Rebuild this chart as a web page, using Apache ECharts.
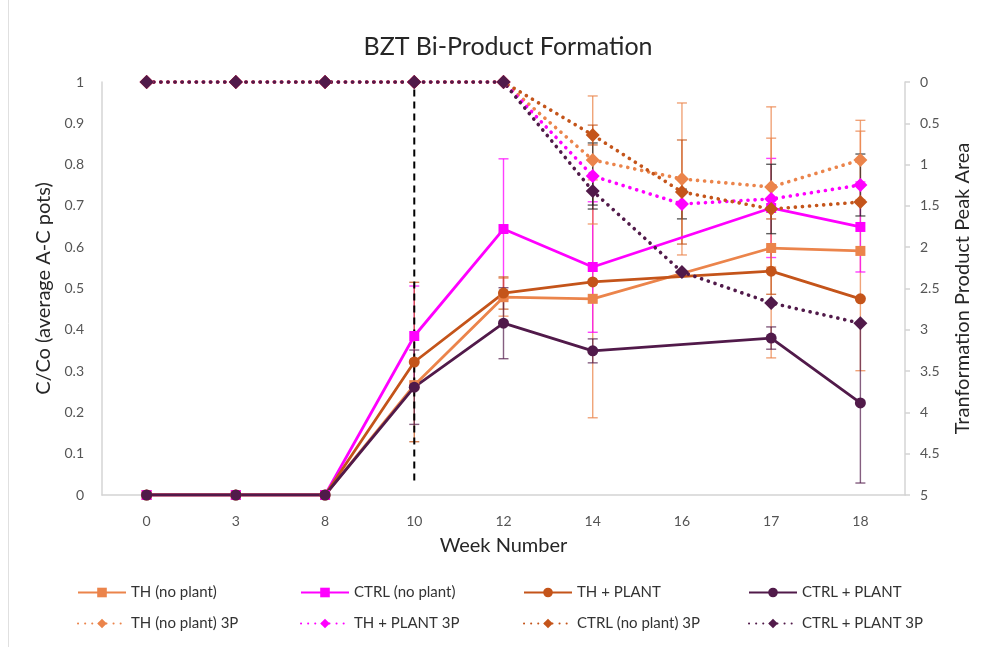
<!DOCTYPE html>
<html>
<head>
<meta charset="utf-8">
<script src="https://cdn.jsdelivr.net/npm/echarts@6/dist/echarts.min.js"></script>
<style>
  html, body { margin: 0; padding: 0; background: #fff; }
  #chart { width: 986px; height: 647px; }
</style>
</head>
<body>
<div id="chart"></div>
<script>
// Sampling weeks
const weeks = ['0', '3', '8', '10', '12', '14', '16', '17', '18'];

// C/Co, average of pots A-C (left axis); week 16 not sampled
const thNoPlant   = [0, 0, 0, 0.266, 0.479, 0.475, null, 0.598, 0.591];
const ctrlNoPlant = [0, 0, 0, 0.385, 0.644, 0.552, null, 0.695, 0.649];
const thPlant     = [0, 0, 0, 0.322, 0.489, 0.516, null, 0.542, 0.475];
const ctrlPlant   = [0, 0, 0, 0.261, 0.416, 0.349, null, 0.380, 0.223];

// Transformation product peak area (right axis, inverted)
const thNoPlant3P   = [0, 0, 0, 0, 0, 0.944, 1.174, 1.271, 0.944];
const thPlant3P     = [0, 0, 0, 0, 0, 1.138, 1.477, 1.416, 1.247];
const ctrlNoPlant3P = [0, 0, 0, 0, 0, 0.642, 1.332, 1.538, 1.453];
const ctrlPlant3P   = [0, 0, 0, 0, 0, 1.320, 2.300, 2.675, 2.920];

// Error bar half-widths (same units as each series)
const thNoPlantErr   = [null, null, null, null, 0.046, 0.288, null, 0.266, 0.290];
const ctrlNoPlantErr = [null, null, null, 0.121, 0.170, 0.158, null, 0.120, 0.109];
const thPlantErr     = [null, null, null, 0.193, 0.039, null, null, 0.056, null];
const ctrlPlantErr   = [null, null, null, 0.090, 0.086, 0.029, null, 0.027, 0.194];
const thNoPlant3PErr   = [null, null, null, null, null, 0.775, 0.920, 0.970, 0.480];
const thPlant3PErr     = [null, null, null, null, null, 0.400, 0.180, 0.420, 0.375];
const ctrlNoPlant3PErr = [null, null, null, null, null, 0.120, 0.630, 0.120, null];
const ctrlPlant3PErr   = [null, null, null, null, null, 0.170, null, null, null];

// Tick labels
const leftTicks = { min: 0, max: 1, step: 0.1 };
const rightTicks = { min: 0, max: 5, step: 0.5 };

// Legend rows
const legendRow1 = ['TH (no plant)', 'CTRL (no plant)', 'TH + PLANT', 'CTRL + PLANT'];
const legendRow2 = ['TH (no plant) 3P', 'TH + PLANT 3P', 'CTRL (no plant) 3P', 'CTRL + PLANT 3P'];

// Treatment start marker at week 10
const cutoffWeek = '10';
const cutoffSpan = [0.035, 0.99];

const C_TH_NP = '#EB844B';
const C_CTRL_NP = '#FF00FF';
const C_TH_P = '#C4541A';
const C_CTRL_P = '#511A4A';
const FONT = 'Lato';

function errData(vals, errs) {
  const out = [];
  vals.forEach((v, i) => {
    if (v != null && errs[i] != null) out.push([i, v - errs[i], v + errs[i]]);
  });
  return out;
}

function errorSeries(vals, errs, color, axis) {
  return {
    type: 'custom',
    yAxisIndex: axis,
    z: 1,
    silent: true,
    data: errData(vals, errs),
    renderItem: function (params, api) {
      const x = api.value(0);
      const lo = api.coord([x, api.value(1)]);
      const hi = api.coord([x, api.value(2)]);
      const hw = 5;
      const style = { stroke: color, lineWidth: 1.4, fill: null };
      return {
        type: 'group',
        children: [
          { type: 'line', shape: { x1: lo[0], y1: lo[1], x2: hi[0], y2: hi[1] }, style },
          { type: 'line', shape: { x1: lo[0] - hw, y1: lo[1], x2: lo[0] + hw, y2: lo[1] }, style },
          { type: 'line', shape: { x1: hi[0] - hw, y1: hi[1], x2: hi[0] + hw, y2: hi[1] }, style }
        ]
      };
    }
  };
}

function solid(name, data, color, symbol, size) {
  return {
    name, type: 'line', data, yAxisIndex: 0, z: 3,
    connectNulls: true,
    symbol, symbolSize: size, showAllSymbol: true,
    lineStyle: { color, width: 2.8 },
    itemStyle: { color, borderWidth: 0 },
    emphasis: { disabled: true }
  };
}

function dotted(name, data, color) {
  return {
    name, type: 'line', data, yAxisIndex: 1, z: 4,
    symbol: 'diamond', symbolSize: 14, showAllSymbol: true,
    lineStyle: { color, width: 3.6, type: [0.1, 7], cap: 'round' },
    itemStyle: { color, borderWidth: 0 },
    emphasis: { disabled: true }
  };
}

// One legend block per entry so the four columns line up across both rows
const legendCols = [77, 300, 523, 748];
const legendTops = [585, 616];
function legendBlocks() {
  const out = [];
  [legendRow1, legendRow2].forEach((row, r) => {
    row.forEach((name, c) => {
      out.push({
        data: [name],
        left: legendCols[c], top: legendTops[r], padding: 0,
        itemWidth: 48, itemHeight: 12,
        textStyle: { fontFamily: FONT, fontSize: 15, color: '#333' },
        selectedMode: false
      });
    });
  });
  return out;
}

const chart = echarts.init(document.getElementById('chart'), null, { renderer: 'canvas' });

chart.setOption({
  animation: false,
  backgroundColor: '#fff',
  textStyle: { fontFamily: FONT },
  title: {
    text: 'BZT Bi-Product Formation',
    left: 503, top: 29, textAlign: 'center',
    textStyle: { fontFamily: FONT, fontSize: 25, fontWeight: 'normal', color: '#262626' }
  },
  grid: { left: 102, right: 81, top: 82, bottom: 152 },
  legend: legendBlocks(),
  xAxis: {
    type: 'category',
    data: weeks,
    boundaryGap: true,
    name: 'Week Number',
    nameLocation: 'middle',
    nameGap: 41,
    nameTextStyle: { fontFamily: FONT, fontSize: 20, color: '#262626' },
    axisLine: { lineStyle: { color: '#D4D4D4', width: 1.5 } },
    axisTick: { show: false },
    axisLabel: { fontFamily: FONT, fontSize: 14, color: '#555', margin: 19 },
    splitLine: { show: false }
  },
  yAxis: [
    {
      type: 'value',
      min: leftTicks.min, max: leftTicks.max, interval: leftTicks.step,
      name: 'C/Co (average A-C pots)',
      nameLocation: 'middle',
      nameGap: 45,
      nameTextStyle: { fontFamily: FONT, fontSize: 20, color: '#262626' },
      axisLine: { show: true, lineStyle: { color: '#D4D4D4', width: 1.5 } },
      axisTick: { show: false },
      axisLabel: { fontFamily: FONT, fontSize: 14, color: '#555', margin: 18 },
      splitLine: { show: false }
    },
    {
      type: 'value',
      inverse: true,
      position: 'right',
      min: rightTicks.min, max: rightTicks.max, interval: rightTicks.step,
      name: 'Tranformation Product Peak Area',
      nameLocation: 'middle',
      nameGap: 48,
      nameRotate: 90,
      nameTextStyle: { fontFamily: FONT, fontSize: 20, color: '#262626' },
      axisLine: { show: true, lineStyle: { color: '#D4D4D4', width: 1.5 } },
      axisTick: { show: true, inside: false, length: 5, lineStyle: { color: '#D4D4D4', width: 1.5 } },
      axisLabel: { fontFamily: FONT, fontSize: 14, color: '#555', margin: 15 },
      splitLine: { show: false }
    }
  ],
  graphic: [
    { type: 'line', shape: { x1: 8.5, y1: 0, x2: 8.5, y2: 647 }, style: { stroke: '#E0E0E0', lineWidth: 1 }, silent: true }
  ],
  series: [
    errorSeries(thNoPlant, thNoPlantErr, 'rgba(235,132,75,0.75)', 0),
    errorSeries(ctrlNoPlant, ctrlNoPlantErr, 'rgba(255,0,255,0.75)', 0),
    errorSeries(thPlant, thPlantErr, 'rgba(196,84,26,0.75)', 0),
    errorSeries(ctrlPlant, ctrlPlantErr, 'rgba(81,26,74,0.7)', 0),
    errorSeries(thNoPlant3P, thNoPlant3PErr, 'rgba(235,132,75,0.75)', 1),
    errorSeries(thPlant3P, thPlant3PErr, 'rgba(40,40,40,0.75)', 1),
    errorSeries(ctrlNoPlant3P, ctrlNoPlant3PErr, 'rgba(196,84,26,0.75)', 1),
    errorSeries(ctrlPlant3P, ctrlPlant3PErr, 'rgba(40,40,40,0.75)', 1),
    {
      type: 'line', yAxisIndex: 0, z: 2, silent: true,
      data: [[cutoffWeek, cutoffSpan[0]], [cutoffWeek, cutoffSpan[1]]],
      symbol: 'none',
      lineStyle: { color: '#000', width: 2, type: [7, 5] }
    },
    solid('TH (no plant)', thNoPlant, C_TH_NP, 'rect', 10),
    solid('CTRL (no plant)', ctrlNoPlant, C_CTRL_NP, 'rect', 10),
    solid('TH + PLANT', thPlant, C_TH_P, 'circle', 11),
    solid('CTRL + PLANT', ctrlPlant, C_CTRL_P, 'circle', 11),
    dotted('TH (no plant) 3P', thNoPlant3P, C_TH_NP),
    dotted('TH + PLANT 3P', thPlant3P, C_CTRL_NP),
    dotted('CTRL (no plant) 3P', ctrlNoPlant3P, C_TH_P),
    dotted('CTRL + PLANT 3P', ctrlPlant3P, C_CTRL_P)
  ]
});
</script>
</body>
</html>
